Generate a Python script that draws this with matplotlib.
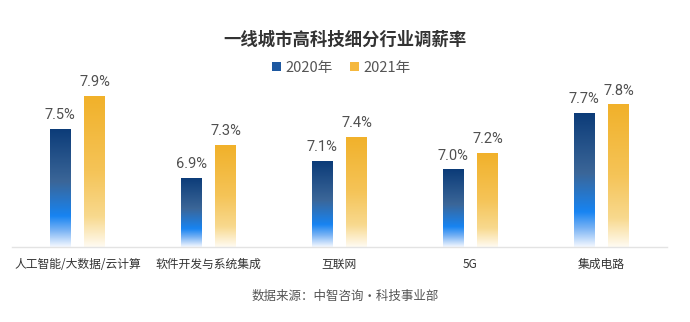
import numpy as np
import matplotlib
matplotlib.use("Agg")
import matplotlib.pyplot as plt
from matplotlib.colors import LinearSegmentedColormap
from matplotlib.patches import Patch

plt.rcParams['font.family'] = ['Noto Sans CJK SC', 'DejaVu Sans']

categories = ["人工智能/大数据/云计算", "软件开发与系统集成", "互联网", "5G", "集成电路"]
v2020 = [7.5, 6.9, 7.1, 7.0, 7.7]
v2021 = [7.9, 7.3, 7.4, 7.2, 7.8]
series_names = ["2020年", "2021年"]
title = "一线城市高科技细分行业调薪率"
source = "数据来源：中智咨询・科技事业部"

ymin, ymax = 6.046, 8.04

fig = plt.figure(figsize=(6.9, 3.22), dpi=100)
ax = fig.add_axes([12/690, 1-247/322, (667-12)/690, (247-85)/322])

blue_cmap = LinearSegmentedColormap.from_list("b", [
    (0.0, "#0b3b78"), (0.45, "#3b6698"), (0.74, "#1784f2"),
    (0.86, "#78b2f4"), (1.0, "#f4f8ff")])
orange_cmap = LinearSegmentedColormap.from_list("o", [
    (0.0, "#f1b12a"), (0.5, "#f5c458"), (0.8, "#f8d98e"),
    (1.0, "#fffbf2")])

x = np.arange(len(categories))
off = 0.133
w = 0.16
bars1 = ax.bar(x - off, np.array(v2020) - ymin, w, bottom=ymin, color="none")
bars2 = ax.bar(x + off, np.array(v2021) - ymin, w, bottom=ymin, color="none")

grad = np.linspace(0, 1, 256).reshape(-1, 1)
for bars, cmap in ((bars1, blue_cmap), (bars2, orange_cmap)):
    for b in bars:
        bx, by = b.get_x(), b.get_y()
        bw, bh = b.get_width(), b.get_height()
        im = ax.imshow(grad, cmap=cmap, aspect="auto", origin="upper",
                       extent=[bx, bx + bw, by, by + bh], zorder=2,
                       interpolation="bicubic")
        im.set_clip_path(b)

for bars, vals in ((bars1, v2020), (bars2, v2021)):
    for b, v in zip(bars, vals):
        ax.annotate(f"{v:.1f}%", (b.get_x() + b.get_width()/2, v),
                    xytext=(0, 5), textcoords="offset points",
                    ha="center", va="bottom", fontsize=10.5, color="#505050",
                    family=["Roboto", "DejaVu Sans"])

ax.set_xlim(-0.5, len(categories) - 0.5)
ax.set_ylim(ymin, ymax)
ax.set_xticks(x)
ax.set_xticklabels(categories, fontsize=8.5, color="#333333")
ax.tick_params(axis="x", length=0, pad=8)
ax.set_yticks([])
for s in ("top", "right", "left"):
    ax.spines[s].set_visible(False)
ax.spines["bottom"].set_color("#e3e3e3")
ax.spines["bottom"].set_linewidth(1)

fig.text(0.5, 1-40/322, title, ha="center", va="center",
         fontsize=12.5, fontweight="bold", color="#333333")

handles = [Patch(facecolor="#1d58a0"), Patch(facecolor="#f5b83e")]
fig.legend(handles, series_names, loc="center", bbox_to_anchor=(0.495, 1-68/322),
           ncol=2, frameon=False, fontsize=10.5, handlelength=0.6, handleheight=0.6,
           handletextpad=0.3, columnspacing=1.2, labelcolor="#555555")

fig.text(0.5, 1-296/322, source, ha="center", va="center",
         fontsize=9, color="#555555")

fig.savefig("out.png", dpi=100, facecolor="white")
